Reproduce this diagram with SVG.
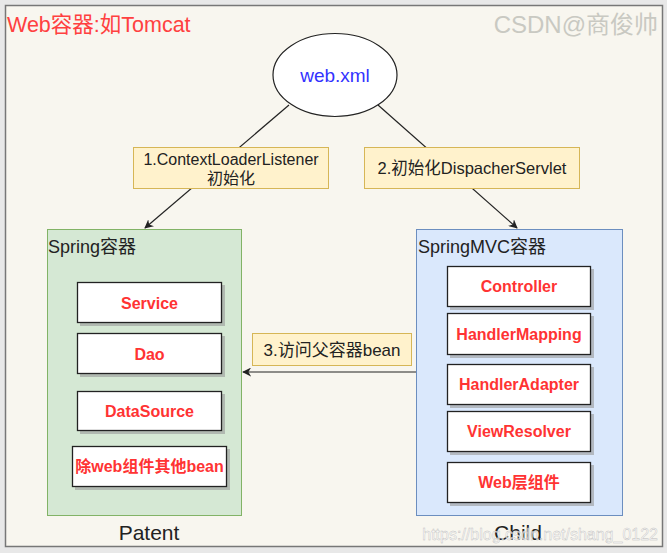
<svg xmlns="http://www.w3.org/2000/svg" width="667" height="553" viewBox="0 0 667 553">
<defs>
<style>
.t{font-family:"Liberation Sans","Noto Sans CJK SC",Arial,sans-serif}
.lbl{fill:#fff2cc;stroke:#d6b656;stroke-width:1}
.bean{fill:#ffffff;stroke:#222;stroke-width:1.3}
.sh{fill:#999;opacity:0.6}
.bt{font-family:"Liberation Sans","Noto Sans CJK SC",Arial,sans-serif;font-weight:bold;font-size:16px;fill:#ff3333;text-anchor:middle}
.edge{stroke:#222;stroke-width:1.2;fill:none}
</style>
<marker id="arr" viewBox="0 0 10 10" refX="9" refY="5" markerWidth="9" markerHeight="9" markerUnits="userSpaceOnUse" orient="auto">
<path d="M0,0 L10,5 L0,10 L3,5 Z" fill="#222"/>
</marker>
</defs>
<rect x="0" y="0" width="667" height="553" fill="#e8e8e8"/>
<rect id="frame" x="5.5" y="5.5" width="657" height="541" fill="#f8f6ef" stroke="#777" stroke-width="1.5"/>
<text class="t" x="7" y="32" font-size="21.5" fill="#ff4040">Web容器:如Tomcat</text>
<text class="t" x="658" y="33" font-size="24" fill="#c9c9c2" text-anchor="end">CSDN@商俊帅</text>

<g id="spring">
<rect x="47.5" y="229.5" width="194" height="286" fill="#d5e8d4" stroke="#82b366"/>
<text class="t" x="48" y="253" font-size="18" fill="#222">Spring容器</text>
</g>
<g id="springmvc">
<rect x="416.5" y="229.5" width="206" height="286" fill="#dae8fc" stroke="#6c8ebf"/>
<text class="t" x="418" y="253" font-size="18" fill="#222">SpringMVC容器</text>
</g>

<g id="connectors">
<line class="edge" x1="289" y1="105" x2="145" y2="228" marker-end="url(#arr)"/>
<line class="edge" x1="378" y1="105" x2="517" y2="228" marker-end="url(#arr)"/>
<line class="edge" x1="416" y1="372" x2="243" y2="372" marker-end="url(#arr)"/>
</g>

<g id="webxml">
<ellipse cx="335" cy="75" rx="62" ry="41.5" fill="#ffffff" stroke="#222" stroke-width="1.2"/>
<text class="t" x="335" y="82" font-size="19" fill="#3333ff" text-anchor="middle">web.xml</text>
</g>

<g id="label1">
<rect class="lbl" x="133.5" y="147.5" width="195" height="41"/>
<text class="t" x="231" y="164.5" font-size="16" fill="#222" text-anchor="middle">1.ContextLoaderListener</text>
<text class="t" x="231" y="184" font-size="16" fill="#222" text-anchor="middle">初始化</text>
</g>
<g id="label2">
<rect class="lbl" x="364.5" y="147.5" width="215" height="41"/>
<text class="t" x="472" y="174" font-size="16.5" fill="#222" text-anchor="middle">2.初始化DispacherServlet</text>
</g>
<g id="label3">
<rect class="lbl" x="252.5" y="333.5" width="159" height="32"/>
<text class="t" x="332" y="356" font-size="17" fill="#222" text-anchor="middle">3.访问父容器bean</text>
</g>

<g id="service">
<rect class="sh" x="80" y="285" width="145" height="41"/>
<rect class="bean" x="77.5" y="282.5" width="144" height="40"/>
<text class="bt" x="149.5" y="308.5">Service</text>
</g>
<g id="dao">
<rect class="sh" x="80" y="336" width="145" height="41"/>
<rect class="bean" x="77.5" y="333.5" width="144" height="40"/>
<text class="bt" x="149.5" y="359.5">Dao</text>
</g>
<g id="datasource">
<rect class="sh" x="80" y="394" width="145" height="40"/>
<rect class="bean" x="77.5" y="391.5" width="144" height="39"/>
<text class="bt" x="149.5" y="417">DataSource</text>
</g>
<g id="otherbean">
<rect class="sh" x="75" y="449" width="155" height="41"/>
<rect class="bean" x="72.5" y="446.5" width="154" height="40"/>
<text class="bt" x="149.5" y="472" font-size="14.5">除web组件其他bean</text>
</g>

<g id="controller">
<rect class="sh" x="450" y="269" width="144" height="41"/>
<rect class="bean" x="447.5" y="266.5" width="143" height="40"/>
<text class="bt" x="519" y="292">Controller</text>
</g>
<g id="handlermapping">
<rect class="sh" x="450" y="316" width="144" height="42"/>
<rect class="bean" x="447.5" y="313.5" width="143" height="41"/>
<text class="bt" x="519" y="340">HandlerMapping</text>
</g>
<g id="handleradapter">
<rect class="sh" x="450" y="367" width="144" height="41"/>
<rect class="bean" x="447.5" y="364.5" width="143" height="40"/>
<text class="bt" x="519" y="390">HandlerAdapter</text>
</g>
<g id="viewresolver">
<rect class="sh" x="450" y="414" width="144" height="41"/>
<rect class="bean" x="447.5" y="411.5" width="143" height="40"/>
<text class="bt" x="519" y="437">ViewResolver</text>
</g>
<g id="weblayer">
<rect class="sh" x="450" y="465" width="144" height="41"/>
<rect class="bean" x="447.5" y="462.5" width="143" height="40"/>
<text class="bt" x="519" y="488">Web层组件</text>
</g>

<text class="t" x="149" y="540" font-size="21" fill="#222" text-anchor="middle">Patent</text>
<text class="t" x="518" y="540" font-size="21" fill="#222" text-anchor="middle">Child</text>
<text class="t" x="658" y="540" font-size="16" fill="#ffffff" fill-opacity="0.75" stroke="#bbb" stroke-width="0.4" text-anchor="end">https://blog.csdn.net/shang_0122</text>
</svg>
